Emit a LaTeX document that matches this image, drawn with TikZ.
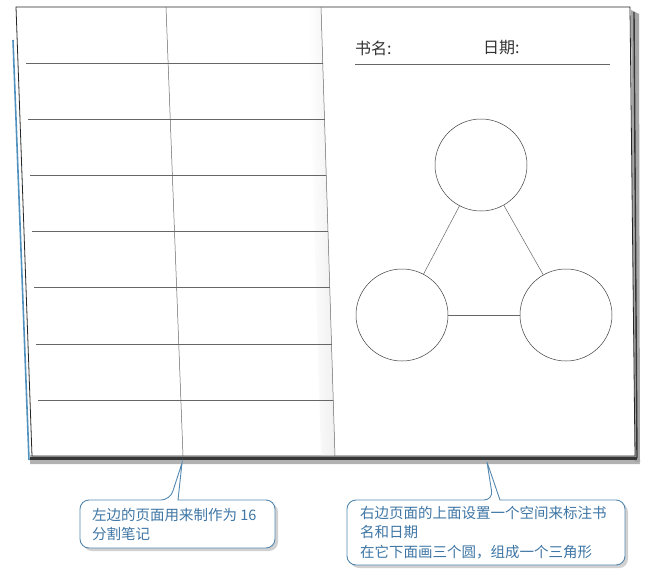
\documentclass[tikz,border=0pt]{standalone}
\usepackage{fontspec}
\newfontfamily\cjk{Noto Sans CJK SC}
\usetikzlibrary{calc}

\definecolor{noteblue}{RGB}{62,118,165}
\definecolor{bubbleline}{RGB}{84,136,176}
\definecolor{bookedge}{RGB}{55,55,55}
\definecolor{sideblue}{RGB}{80,145,190}

\begin{document}
\begin{tikzpicture}[x=1pt,y=-1pt,
  rule/.style={draw=black!60,line width=0.5pt},
  ring/.style={draw=black!75,circle,minimum size=92pt,inner sep=0pt,line width=0.5pt},
  headtext/.style={font=\cjk\fontsize{16}{16}\selectfont,anchor=west,inner sep=0pt,text=black!80},
  tiptext/.style={text=noteblue,font=\cjk\fontsize{14.5}{19.5}\selectfont,align=left,anchor=north west,inner sep=0pt},
  bubble/.style={draw=bubbleline,line width=0.9pt,fill=white},
  bubbleshade/.style={fill=black!18,rounded corners=9pt}]
  \fill[white] (0,0) rectangle (665,581);
  \useasboundingbox (0,0) rectangle (665,581);

  % book corners
  \coordinate (pl-tl) at (16,7);
  \coordinate (pl-bl) at (32,456);
  \coordinate (sp-t) at (321,7);
  \coordinate (sp-b) at (335,456);
  \coordinate (pr-tr) at (630,7);
  \coordinate (pr-br) at (635,456);
  \coordinate (mid-t) at (166,7);
  \coordinate (mid-b) at (183,456);

  % edges of the pages below
  \draw[sideblue,line width=1.6pt] (13,40) -- (29,460);
  \fill[black!30] (30,455) -- (638,455) -- (640,464) -- (30,464) -- cycle;
  \fill[black!35] (631,10) -- (639,14) -- (640,462) -- (634,462) -- cycle;
  \draw[bookedge,line width=2.6pt] (30,458.5) -- (637,458.5);
  \draw[bookedge,line width=1.4pt] (634,12) -- (637,458);

  \draw[black!85,line width=0.8pt,fill=white] (pl-tl) -- (pr-tr) -- (pr-br) -- (pl-bl) -- cycle;
  \shade[left color=white,right color=black!6] (308,8) -- (321,8) -- (335,455) -- (321,455) -- cycle;

  % left page: 16 boxes
  \draw[rule] (sp-t) -- (sp-b);
  \draw[rule] (mid-t) -- (mid-b);
  \foreach \i in {1,...,7}
    \draw[rule] ($(pl-tl)!\i/8!(pl-bl)+(8,0)$) -- ($(sp-t)!\i/8!(sp-b)$);

  % right page
  \node[headtext] (book) at (355,48) {书名:};
  \node[headtext] (date) at (483,48) {日期:};
  \coordinate (hl-a) at (355,64);
  \coordinate (hl-b) at (610,64);
  \draw[rule] (hl-a) -- (hl-b);

  \node[ring] (topC) at (481,165) {};
  \node[ring] (leftC) at (402,315) {};
  \node[ring] (rightC) at (566,315) {};
  \draw[rule] (topC) -- (leftC);
  \draw[rule] (topC) -- (rightC);
  \draw[rule] (leftC) -- (rightC);

  % callouts
  \coordinate (tipL) at (182,463);
  \coordinate (tipR) at (487,462);
  \fill[bubbleshade] (83,503) rectangle (278,551);
  \draw[bubble] (tipL) -- (178,500) [rounded corners=9pt] -- (275,500) -- (275,548) -- (80,548) -- (80,500) -- (170,500) [sharp corners] -- cycle;
  \node[tiptext] (noteL) at (92,508) {左边的页面用来制作为 16\\分割笔记};

  \fill[bubbleshade] (350,503) rectangle (628,568);
  \draw[bubble] (tipR) -- (500,500) [rounded corners=9pt] -- (625,500) -- (625,565) -- (347,565) -- (347,500) -- (493,500) [sharp corners] -- cycle;
  \node[tiptext] (noteR) at (360,506) {右边页面的上面设置一个空间来标注书\\名和日期\\在它下面画三个圆，组成一个三角形};
\end{tikzpicture}
\end{document}
